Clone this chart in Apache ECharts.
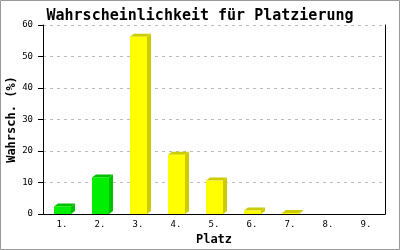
<!DOCTYPE html>
<html>
<head>
<meta charset="utf-8">
<script src="https://cdn.jsdelivr.net/npm/echarts@6/dist/echarts.min.js"></script>
<style>
html,body{margin:0;padding:0;background:#fff;}
#c{width:400px;height:250px;}
</style>
</head>
<body>
<div id="c"></div>
<script>
const categories = ['1.', '2.', '3.', '4.', '5.', '6.', '7.', '8.', '9.'];
const values = [2.4, 11.6, 56.3, 18.8, 10.6, 1.1, 0.3, 0, 0];
const yTicks = { min: 0, max: 60, interval: 10 };
const GREEN_PLACES = 2;

const MONO = '"DejaVu Sans Mono", "Liberation Mono", monospace';
const chart = echarts.init(document.getElementById('c'), null, { renderer: 'canvas' });

function renderItem(params, api) {
  const i = api.value(0);
  const v = api.value(1);
  if (!(v > 0)) return null;
  const p0 = api.coord([i, 0]);
  const p1 = api.coord([i, v]);
  const w = 17, dx = 4, dy = 3;
  const x = Math.round(p0[0] - w / 2);
  const y0 = p0[1];
  const y1 = p1[1];
  const green = i < GREEN_PLACES;
  const front = green ? '#00ee00' : '#ffff00';
  const dark = green ? '#00c000' : '#cccc00';
  return {
    type: 'group',
    children: [
      { type: 'polygon', shape: { points: [[x + w, y1], [x + w + dx, y1 - dy], [x + w + dx, y0 - dy], [x + w, y0]] }, style: { fill: dark } },
      { type: 'polygon', shape: { points: [[x, y1], [x + dx, y1 - dy], [x + w + dx, y1 - dy], [x + w, y1]] }, style: { fill: dark } },
      { type: 'rect', shape: { x: x, y: y1, width: w, height: y0 - y1 }, style: { fill: front } }
    ]
  };
}

chart.setOption({
  animation: false,
  backgroundColor: '#fff',
  title: {
    text: 'Wahrscheinlichkeit für Platzierung',
    left: 'center',
    top: 4,
    textStyle: { fontFamily: MONO, fontSize: 15, fontWeight: 'bold', color: '#000' }
  },
  graphic: [{
    type: 'rect', z: 100,
    shape: { x: 0.5, y: 0.5, width: 399, height: 249 },
    style: { fill: 'none', stroke: '#999', lineWidth: 1 }
  }],
  grid: { left: 43, right: 15, top: 25, bottom: 36, containLabel: false, outerBoundsMode: 'none' },
  xAxis: {
    type: 'category',
    data: categories,
    name: 'Platz',
    nameLocation: 'middle',
    nameGap: 20,
    nameMoveOverlap: false,
    nameTextStyle: { fontFamily: MONO, fontSize: 12, fontWeight: 'bold', color: '#000' },
    axisLine: { show: true, lineStyle: { color: '#000', width: 1 } },
    axisTick: { show: false },
    axisLabel: { fontFamily: MONO, fontSize: 9, color: '#000', margin: 6 },
    splitLine: { show: false }
  },
  yAxis: [{
    type: 'value',
    min: yTicks.min, max: yTicks.max, interval: yTicks.interval,
    name: 'Wahrsch. (%)',
    nameLocation: 'middle',
    nameGap: 25,
    nameRotate: 90,
    nameMoveOverlap: false,
    nameTextStyle: { fontFamily: MONO, fontSize: 12, fontWeight: 'bold', color: '#000' },
    axisLine: { show: true, lineStyle: { color: '#000', width: 1 } },
    axisTick: { show: true, length: 5, lineStyle: { color: '#000' } },
    axisLabel: { fontFamily: MONO, fontSize: 9, color: '#000', margin: 10 },
    splitLine: { show: true, lineStyle: { color: '#bbb', type: [3, 4], width: 1 } }
  }, {
    type: 'value',
    position: 'right',
    min: yTicks.min, max: yTicks.max, interval: yTicks.interval,
    axisLine: { show: true, lineStyle: { color: '#000', width: 1 } },
    axisTick: { show: false },
    axisLabel: { show: false },
    splitLine: { show: false }
  }],
  series: [{
    type: 'custom',
    renderItem: renderItem,
    encode: { x: 0, y: 1 },
    data: values.map((v, i) => [i, v])
  }]
});
</script>
</body>
</html>
